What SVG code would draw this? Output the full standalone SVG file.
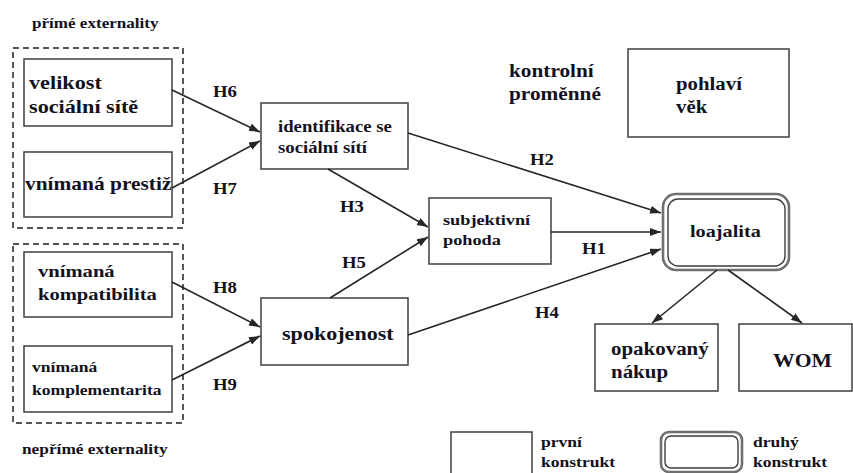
<svg xmlns="http://www.w3.org/2000/svg" width="853" height="473" viewBox="0 0 853 473">
  <style>
    .t { font-family: "Liberation Serif", "Times New Roman", serif; font-weight: bold; fill: #12121e; }
    .box { fill: #ffffff; stroke: #4a4a4a; stroke-width: 1.6; }
    .group { fill: none; stroke: #555555; stroke-width: 2; stroke-dasharray: 6 4; }
    .outer { fill: #ffffff; stroke: #707070; stroke-width: 2.6; }
    .inner { fill: none; stroke: #3c3c3c; stroke-width: 1.4; }
    .link { fill: none; stroke: #262626; stroke-width: 1.6; marker-end: url(#arrow); }
  </style>
  <defs>
    <marker id="arrow" markerUnits="userSpaceOnUse" markerWidth="12" markerHeight="10" refX="11" refY="4" orient="auto">
      <path d="M0,0 L11,4 L0,8 Z" fill="#262626"/>
    </marker>
  </defs>
  <rect width="853" height="473" fill="#ffffff"/>

  <!-- direct externalities -->
  <g id="prime-externality">
    <text class="t" font-size="14.6" transform="translate(32 28) scale(1.17 1)">přímé externality</text>
    <rect class="group" x="13" y="48" width="170" height="180"/>
  </g>
  <g id="velikost">
    <rect class="box" x="24" y="59" width="148" height="67"/>
    <text class="t" font-size="19" transform="translate(29 89) scale(1.17 1)"><tspan x="0">velikost</tspan><tspan x="0" dy="24">sociální sítě</tspan></text>
  </g>
  <g id="prestiz">
    <rect class="box" x="24" y="152" width="148" height="65"/>
    <text class="t" font-size="18.3" transform="translate(25 190) scale(1.17 1)">vnímaná prestiž</text>
  </g>

  <!-- indirect externalities -->
  <g id="neprime-externality">
    <rect class="group" x="13" y="244" width="170" height="179"/>
    <text class="t" font-size="14.8" transform="translate(22 454) scale(1.17 1)">nepřímé externality</text>
  </g>
  <g id="kompatibilita">
    <rect class="box" x="24" y="252" width="148" height="65"/>
    <text class="t" font-size="17.6" transform="translate(38 277) scale(1.17 1)"><tspan x="0">vnímaná</tspan><tspan x="0" dy="23">kompatibilita</tspan></text>
  </g>
  <g id="komplementarita">
    <rect class="box" x="24" y="346" width="148" height="66"/>
    <text class="t" font-size="15" transform="translate(32 372) scale(1.17 1)"><tspan x="0">vnímaná</tspan><tspan x="0" dy="23">komplementarita</tspan></text>
  </g>

  <!-- mediators -->
  <g id="identifikace">
    <rect class="box" x="261" y="103" width="147" height="66"/>
    <text class="t" font-size="16" transform="translate(278 132) scale(1.17 1)"><tspan x="0">identifikace se</tspan><tspan x="0" dy="21">sociální sítí</tspan></text>
  </g>
  <g id="pohoda">
    <rect class="box" x="429" y="198" width="122" height="66"/>
    <text class="t" font-size="15.6" transform="translate(443 225) scale(1.17 1)"><tspan x="0">subjektivní</tspan><tspan x="0" dy="20">pohoda</tspan></text>
  </g>
  <g id="spokojenost">
    <rect class="box" x="261" y="298" width="147" height="67"/>
    <text class="t" font-size="18.9" transform="translate(282 340) scale(1.17 1)">spokojenost</text>
  </g>

  <!-- control variables -->
  <g id="kontrolni">
    <text class="t" font-size="18.2" transform="translate(509 77) scale(1.17 1)"><tspan x="0">kontrolní</tspan><tspan x="0" dy="23">proměnné</tspan></text>
  </g>
  <g id="pohlavi-vek">
    <rect class="box" x="628" y="49" width="161" height="88"/>
    <text class="t" font-size="17.8" transform="translate(676 90) scale(1.17 1)"><tspan x="0">pohlaví</tspan><tspan x="0" dy="23">věk</tspan></text>
  </g>

  <!-- outcome -->
  <g id="loajalita">
    <rect class="outer" x="663" y="194" width="126" height="76" rx="13"/>
    <rect class="inner" x="668" y="199" width="117" height="67" rx="10"/>
    <text class="t" font-size="17.3" transform="translate(690 237) scale(1.17 1)">loajalita</text>
  </g>
  <g id="opakovany-nakup">
    <rect class="box" x="595" y="324" width="123" height="67"/>
    <text class="t" font-size="17.9" transform="translate(611 355) scale(1.17 1)"><tspan x="0">opakovaný</tspan><tspan x="0" dy="23">nákup</tspan></text>
  </g>
  <g id="wom">
    <rect class="box" x="739" y="324" width="113" height="67"/>
    <text class="t" font-size="18.5" transform="translate(773 367) scale(1.17 1)">WOM</text>
  </g>

  <!-- legend -->
  <g id="legenda-prvni">
    <rect class="box" x="451" y="432" width="81" height="44"/>
    <text class="t" font-size="15" transform="translate(541 447) scale(1.17 1)"><tspan x="0">první</tspan><tspan x="0" dy="20">konstrukt</tspan></text>
  </g>
  <g id="legenda-druhy">
    <rect class="outer" x="661" y="432" width="81" height="40" rx="8"/>
    <rect class="inner" x="665" y="436" width="73" height="32" rx="6"/>
    <text class="t" font-size="15" transform="translate(753 447) scale(1.17 1)"><tspan x="0">druhý</tspan><tspan x="0" dy="20">konstrukt</tspan></text>
  </g>

  <!-- paths between constructs -->
  <g id="connectors">
    <line class="link" x1="172" y1="90" x2="260" y2="132"/>
    <line class="link" x1="172" y1="188" x2="260" y2="141"/>
    <line class="link" x1="172" y1="282" x2="260" y2="327"/>
    <line class="link" x1="172" y1="380" x2="260" y2="336"/>
    <line class="link" x1="408" y1="133" x2="661" y2="213"/>
    <line class="link" x1="328" y1="169" x2="428" y2="227"/>
    <line class="link" x1="330" y1="298" x2="428" y2="237"/>
    <line class="link" x1="551" y1="232" x2="661" y2="232"/>
    <line class="link" x1="408" y1="335" x2="661" y2="249"/>
    <line class="link" x1="717" y1="270" x2="652" y2="323"/>
    <line class="link" x1="728" y1="270" x2="802" y2="323"/>
    <g class="t" font-size="16">
      <text transform="translate(213 97) scale(1.17 1)">H6</text>
      <text transform="translate(213 194) scale(1.17 1)">H7</text>
      <text transform="translate(213 293) scale(1.17 1)">H8</text>
      <text transform="translate(213 390) scale(1.17 1)">H9</text>
      <text transform="translate(340 212) scale(1.17 1)">H3</text>
      <text transform="translate(342 268) scale(1.17 1)">H5</text>
      <text transform="translate(530 165) scale(1.17 1)">H2</text>
      <text transform="translate(582 254) scale(1.17 1)">H1</text>
      <text transform="translate(535 318) scale(1.17 1)">H4</text>
    </g>
  </g>
</svg>
